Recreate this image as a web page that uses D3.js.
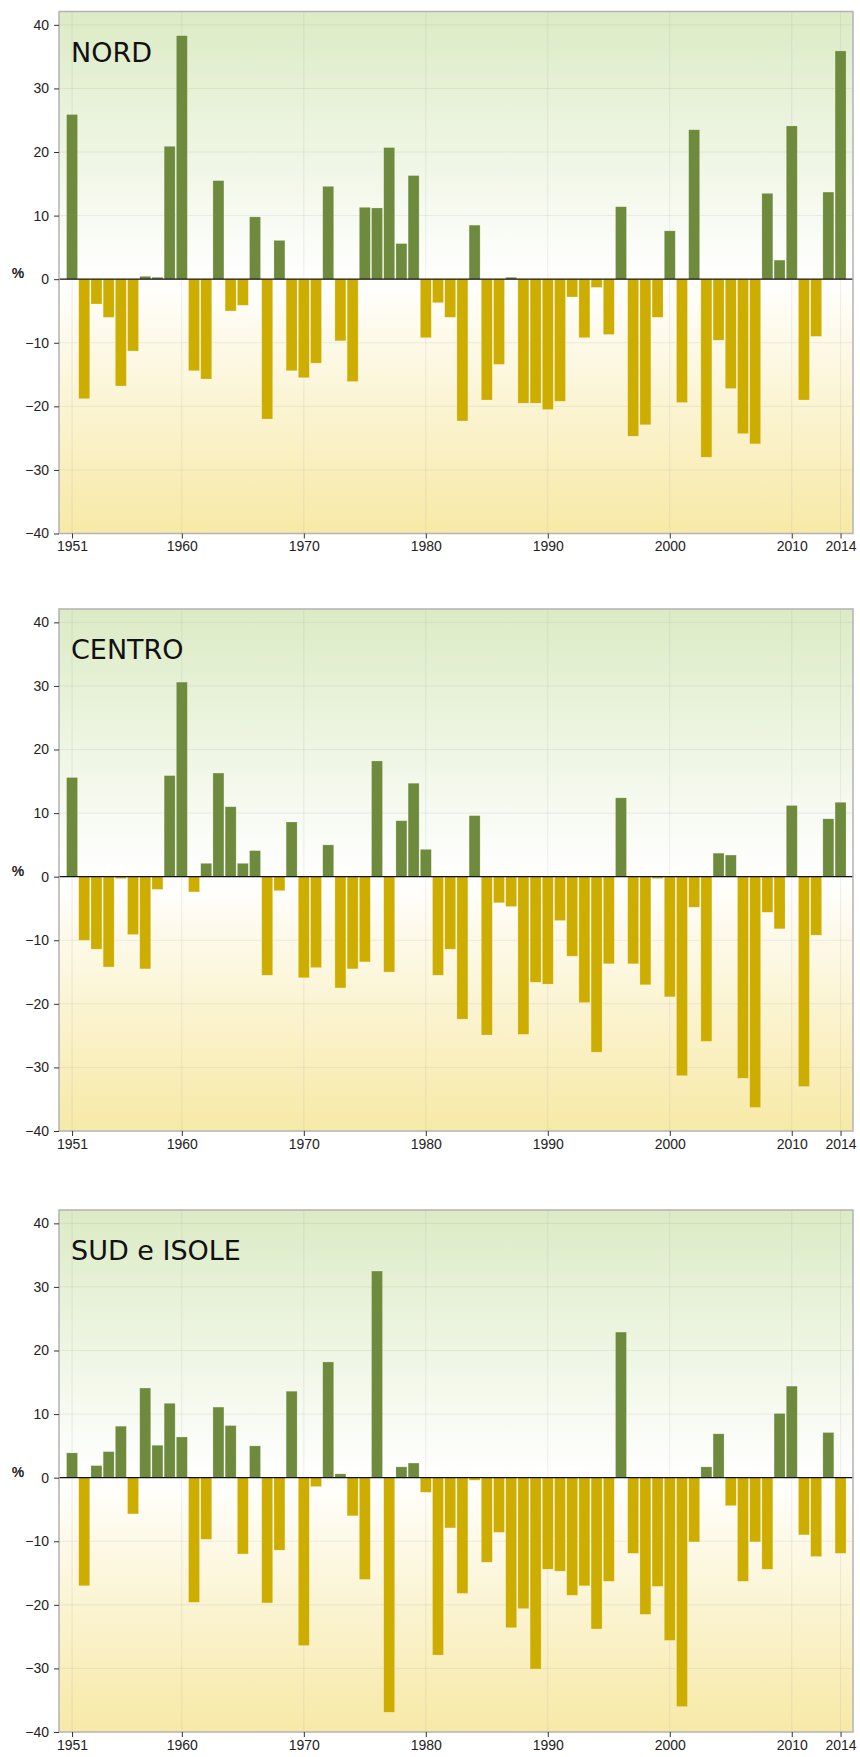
<!DOCTYPE html>
<html>
<head>
<meta charset="utf-8">
<script src="https://cdn.jsdelivr.net/npm/d3@7"></script>
<style>
  html, body { margin: 0; padding: 0; background: #ffffff; }
  svg { display: block; }
</style>
</head>
<body>
<svg id="chart" width="860" height="1757"></svg>
<script>
// Precipitation anomaly (%) per year, 1951-2014, for three Italian macro-regions
const years = d3.range(1951, 2015);

const nord = [
  25.9, -18.8, -3.9, -6.0, -16.8, -11.3, 0.45, 0.3, 20.9, 38.3,
  -14.4, -15.7, 15.5, -5.0, -4.1, 9.8, -22.0, 6.1, -14.4, -15.5,
  -13.2, 14.6, -9.7, -16.1, 11.3, 11.2, 20.7, 5.6, 16.3, -9.2,
  -3.7, -6.0, -22.3, 8.5, -19.0, -13.4, 0.3, -19.5, -19.5, -20.5,
  -19.2, -2.8, -9.2, -1.3, -8.7, 11.4, -24.7, -22.9, -6.0, 7.6,
  -19.4, 23.5, -28.0, -9.6, -17.2, -24.3, -25.9, 13.5, 3.0, 24.1,
  -19.0, -9.0, 13.7, 35.9
];

const centro = [
  15.6, -10.0, -11.4, -14.2, -0.3, -9.1, -14.5, -2.0, 15.9, 30.6,
  -2.4, 2.1, 16.3, 11.0, 2.1, 4.1, -15.5, -2.2, 8.6, -15.9,
  -14.3, 5.0, -17.5, -14.5, -13.4, 18.2, -15.0, 8.8, 14.7, 4.3,
  -15.5, -11.4, -22.4, 9.6, -24.9, -4.1, -4.7, -24.8, -16.6, -16.9,
  -6.9, -12.5, -19.8, -27.6, -13.7, 12.4, -13.7, -17.0, -0.3, -18.9,
  -31.3, -4.8, -25.9, 3.7, 3.4, -31.7, -36.3, -5.6, -8.2, 11.2,
  -33.0, -9.2, 9.1, 11.7
];

const sudIsole = [
  3.9, -17.0, 1.9, 4.1, 8.1, -5.7, 14.1, 5.1, 11.7, 6.4,
  -19.6, -9.7, 11.1, 8.2, -12.0, 5.0, -19.7, -11.4, 13.6, -26.4,
  -1.4, 18.2, 0.6, -6.0, -16.0, 32.5, -36.9, 1.7, 2.3, -2.3,
  -27.9, -7.9, -18.2, -0.4, -13.3, -8.6, -23.6, -20.6, -30.1, -14.4,
  -14.7, -18.5, -17.0, -23.8, -16.3, 22.9, -11.9, -21.5, -17.1, -25.6,
  -36.0, -10.1, 1.7, 6.9, -4.4, -16.3, -10.1, -14.4, 10.1, 14.4,
  -9.0, -12.4, 7.1, -11.9
];

const panelNames = ["NORD", "CENTRO", "SUD e ISOLE"];
const xTicks = [1951, 1960, 1970, 1980, 1990, 2000, 2010, 2014];
const yTicks = [-40, -30, -20, -10, 0, 10, 20, 30, 40];

const panels = [
  { name: panelNames[0], values: nord, top: 11.5 },
  { name: panelNames[1], values: centro, top: 609 },
  { name: panelNames[2], values: sudIsole, top: 1210 }
];

const svg = d3.select("#chart");
const left = 59, right = 853, plotH = 522;
const colPos = "#6e8b3d", colNeg = "#cdad00";

const x = d3.scaleLinear().domain([1949.93, 2015.02]).range([left, right]);
const barW = x(1951.9) - x(1951);

// background gradient: green above zero, white at zero, pale yellow below
const defs = svg.append("defs");
const grad = defs.append("linearGradient")
  .attr("id", "bg").attr("x1", 0).attr("y1", 0).attr("x2", 0).attr("y2", 1);
grad.append("stop").attr("offset", "0%").attr("stop-color", "#dcebc5");
grad.append("stop").attr("offset", "51%").attr("stop-color", "#ffffff");
grad.append("stop").attr("offset", "100%").attr("stop-color", "#f7e9a6");

panels.forEach(p => {
  const y = d3.scaleLinear().domain([-40, 42.1]).range([p.top + plotH, p.top]);
  const g = svg.append("g");

  g.append("rect")
    .attr("x", left).attr("y", p.top)
    .attr("width", right - left).attr("height", plotH)
    .attr("fill", "url(#bg)");

  // grid lines
  g.append("g").selectAll("line.h").data(yTicks.filter(d => d > -40 && d !== 0)).join("line")
    .attr("x1", left).attr("x2", right)
    .attr("y1", d => y(d)).attr("y2", d => y(d))
    .attr("stroke", "rgba(170,170,170,0.2)").attr("stroke-width", 1);
  g.append("g").selectAll("line.v").data(xTicks).join("line")
    .attr("x1", d => x(d)).attr("x2", d => x(d))
    .attr("y1", p.top).attr("y2", p.top + plotH)
    .attr("stroke", "rgba(170,170,170,0.2)").attr("stroke-width", 1);

  // bars
  g.append("g").selectAll("rect").data(years.map((yr, i) => ({ yr, v: p.values[i] }))).join("rect")
    .attr("x", d => x(d.yr) - barW / 2)
    .attr("width", barW)
    .attr("y", d => y(Math.max(0, d.v)))
    .attr("height", d => Math.abs(y(d.v) - y(0)))
    .attr("fill", d => d.v >= 0 ? colPos : colNeg)
    .attr("stroke", "rgba(255,255,255,0.35)")
    .attr("stroke-width", 0.6);

  // zero line
  g.append("line")
    .attr("x1", left).attr("x2", right)
    .attr("y1", y(0)).attr("y2", y(0))
    .attr("stroke", "#111").attr("stroke-width", 1.2);

  // panel border
  g.append("rect")
    .attr("x", left).attr("y", p.top)
    .attr("width", right - left).attr("height", plotH)
    .attr("fill", "none").attr("stroke", "#b3b3b3").attr("stroke-width", 1.5);

  // axes
  const yAxis = d3.axisLeft(y).tickValues(yTicks).tickSize(5).tickPadding(5).tickFormat(d3.format("d"));
  const ya = g.append("g").attr("transform", `translate(${left},0)`).call(yAxis);
  const xAxis = d3.axisBottom(x).tickValues(xTicks).tickSize(5).tickPadding(3).tickFormat(d3.format("d"));
  const xa = g.append("g").attr("transform", `translate(0,${p.top + plotH})`).call(xAxis);
  [ya, xa].forEach(a => {
    a.select(".domain").remove();
    a.selectAll(".tick line").attr("stroke", "#333");
    a.selectAll(".tick text")
      .attr("fill", "#222")
      .style("font-family", "'Liberation Sans', Arial, sans-serif")
      .style("font-size", "14px");
  });

  // axis title
  g.append("text")
    .attr("x", 18).attr("y", y(0) - 1)
    .attr("text-anchor", "middle")
    .style("font-family", "'Liberation Sans', Arial, sans-serif")
    .style("font-size", "14px").style("font-weight", "bold")
    .attr("fill", "#222")
    .text("%");

  // region title
  g.append("text")
    .attr("x", 71).attr("y", p.top + 50)
    .style("font-family", "'DejaVu Sans', sans-serif")
    .style("font-size", "27px")
    .attr("fill", "#111")
    .text(p.name);
});
</script>
</body>
</html>
